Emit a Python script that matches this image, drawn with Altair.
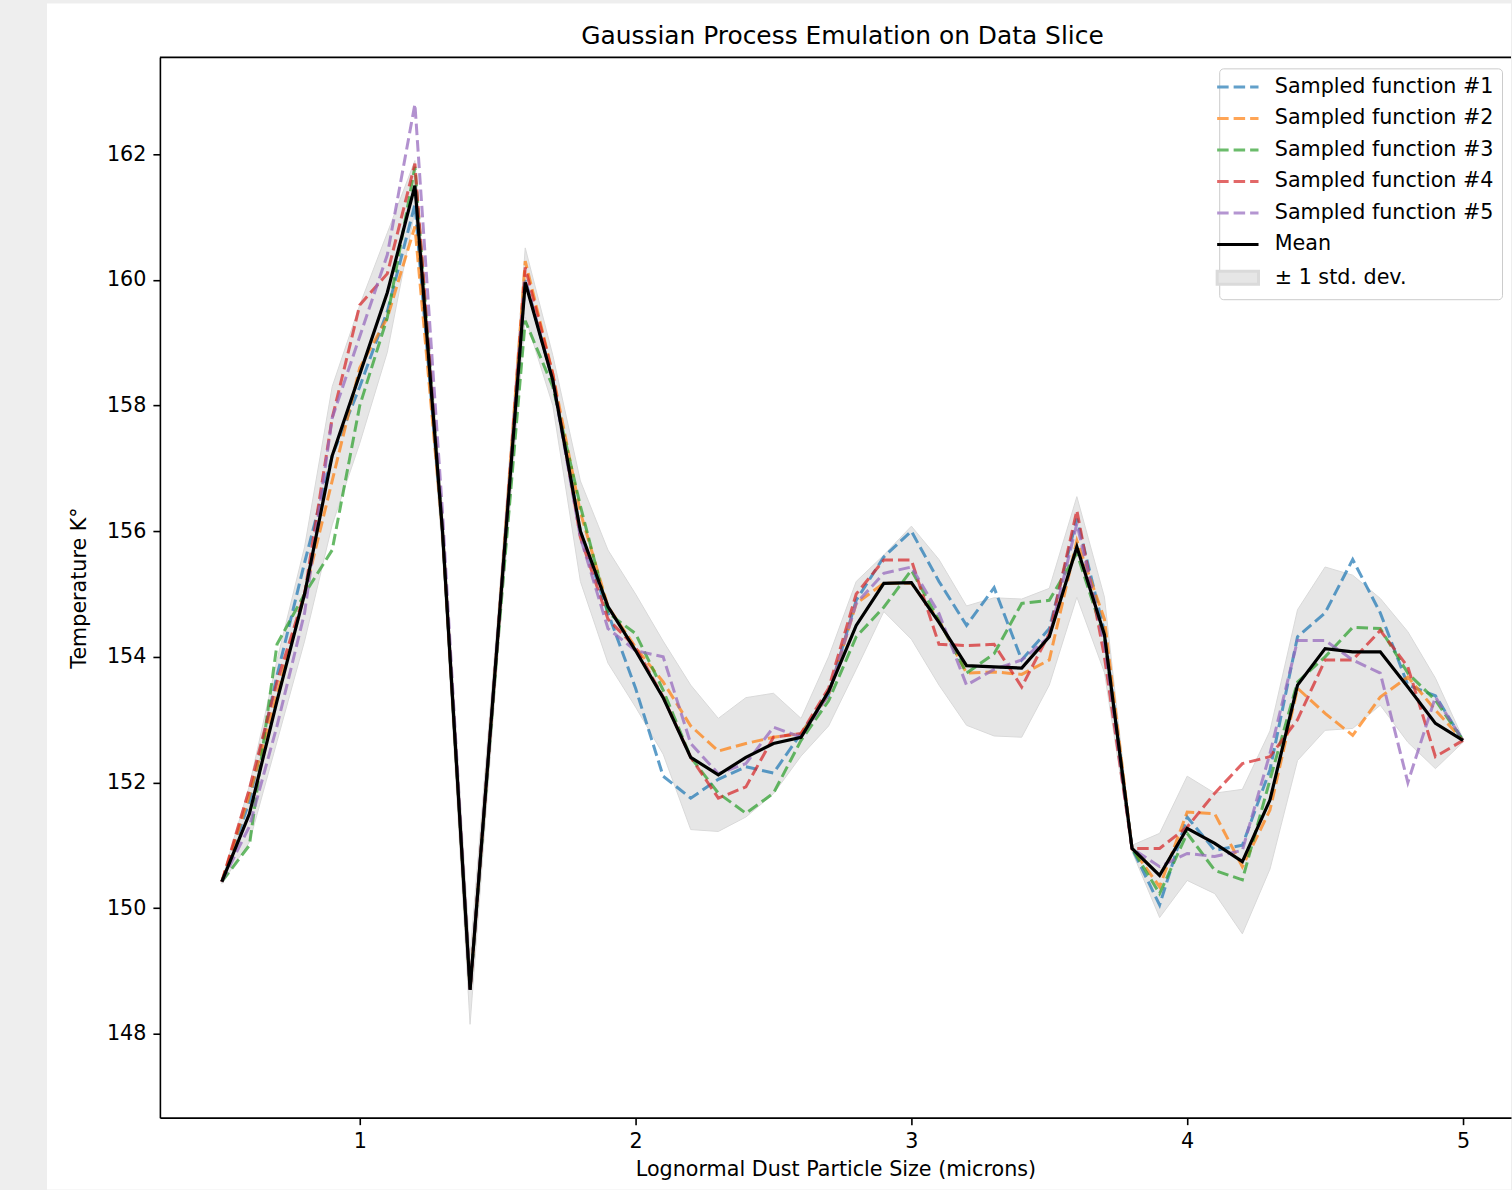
import altair as alt
import pandas as pd

# ---------------- data ----------------
x_vals = [0.5, 0.6, 0.7, 0.8, 0.9, 1.0, 1.1, 1.2, 1.3, 1.4,
          1.5, 1.6, 1.7, 1.8, 1.9, 2.0, 2.1, 2.2, 2.3, 2.4,
          2.5, 2.6, 2.7, 2.8, 2.9, 3.0, 3.1, 3.2, 3.3, 3.4,
          3.5, 3.6, 3.7, 3.8, 3.9, 4.0, 4.1, 4.2, 4.3, 4.4,
          4.5, 4.6, 4.7, 4.8, 4.9, 5.0]

mean_vals = [150.42, 151.5, 153.3, 155.0, 157.2, 158.5, 159.8, 161.5, 156.0, 148.7,
             154.3, 159.96, 158.4, 156.0, 154.8, 154.1, 153.35, 152.4, 152.12, 152.4,
             152.62, 152.72, 153.45, 154.5, 155.17, 155.18, 154.55, 153.86, 153.84, 153.82,
             154.32, 155.75, 154.35, 150.95, 150.52, 151.27, 151.03, 150.74, 151.72, 153.55,
             154.13, 154.08, 154.08, 153.52, 152.94, 152.67]

std_vals = [0.03, 0.45, 0.65, 0.75, 1.1, 1.1, 0.95, 0.4, 0.35, 0.55,
            0.35, 0.55, 0.4, 0.8, 0.9, 0.9, 0.9, 1.15, 0.9, 0.95,
            0.8, 0.3, 0.55, 0.7, 0.45, 0.9, 1.0, 0.95, 1.1, 1.1,
            0.77, 0.8, 0.6, 0.05, 0.67, 0.83, 0.8, 1.15, 1.1, 1.2,
            1.3, 1.22, 0.85, 0.88, 0.72, 0.03]

sample_1 = [150.42, 151.7, 153.7, 155.5, 157.2, 158.3, 159.5, 161.2, 156.0, 148.7,
            154.3, 160.0, 158.4, 156.0, 154.7, 153.5, 152.1, 151.75, 152.05, 152.25,
            152.15, 152.78, 153.4, 154.9, 155.59, 156.0, 155.2, 154.5, 155.1, 153.95,
            154.45, 156.2, 154.4, 150.95, 150.05, 151.45, 150.92, 151.0, 152.2, 154.32,
            154.7, 155.55, 154.7, 153.55, 153.38, 152.67]

sample_2 = [150.42, 151.8, 153.4, 155.0, 156.8, 158.6, 159.4, 160.85, 156.0, 148.7,
            154.3, 160.3, 158.5, 156.3, 154.8, 154.15, 153.6, 152.9, 152.5, 152.62,
            152.72, 152.78, 153.4, 154.85, 155.17, 155.17, 154.58, 153.74, 153.76, 153.72,
            153.95, 155.85, 154.6, 150.95, 150.34, 151.53, 151.5, 150.66, 151.56, 153.5,
            153.1, 152.75, 153.36, 153.68, 153.15, 152.67]

sample_3 = [150.42, 151.0, 154.2, 155.0, 155.7, 158.0, 159.4, 161.8, 156.0, 148.7,
            154.2, 159.35, 158.3, 156.4, 154.7, 154.37, 153.47, 152.4, 151.83, 151.51,
            151.83, 152.67, 153.3, 154.32, 154.79, 155.38, 154.58, 153.74, 154.05, 154.85,
            154.9, 155.65, 154.3, 150.95, 150.23, 151.19, 150.6, 150.45, 152.04, 153.6,
            154.0, 154.47, 154.45, 153.74, 153.31, 152.67]

sample_4 = [150.42, 151.9, 153.6, 155.0, 157.8, 159.6, 160.1, 161.85, 156.0, 148.7,
            154.3, 160.2, 158.5, 155.9, 154.6, 154.15, 153.36, 152.4, 151.75, 151.93,
            152.72, 152.78, 153.5, 155.0, 155.54, 155.54, 154.2, 154.18, 154.2, 153.52,
            154.37, 156.33, 154.0, 150.95, 150.95, 151.29, 151.83, 152.3, 152.41, 153.0,
            153.95, 153.95, 154.42, 153.84, 152.41, 152.67]

sample_5 = [150.42, 151.3, 152.9, 154.7, 157.8, 159.1, 160.4, 162.8, 156.3, 148.7,
            154.3, 160.0, 158.4, 155.9, 154.45, 154.1, 154.0, 152.62, 152.14, 152.3,
            152.88, 152.72, 153.4, 154.85, 155.33, 155.43, 154.69, 153.55, 153.8, 153.95,
            154.32, 156.12, 154.2, 150.95, 150.66, 150.87, 150.82, 150.92, 152.46, 154.26,
            154.26, 153.95, 153.74, 152.0, 153.36, 152.67]

series_names = ["Sampled function #1", "Sampled function #2", "Sampled function #3",
                "Sampled function #4", "Sampled function #5"]
mean_name = "Mean"
band_name = "\u00b1 1 std. dev."
legend_names = series_names + [mean_name, band_name]

x_ticks = [1, 2, 3, 4, 5]
y_ticks = [148, 150, 152, 154, 156, 158, 160, 162]

# ---------------- styles ----------------
line_colors = ["#1f77b4", "#ff7f0e", "#2ca02c", "#d62728", "#9467bd"]
legend_strokes = ["#62a0ca", "#ffa556", "#6bbc6b", "#e26868", "#b495d1", "#000000", "#dadada"]
legend_fills = ["#62a0ca", "#ffa556", "#6bbc6b", "#e26868", "#b495d1", "#000000", "#e6e6e6"]
dash_path = "M-4.14,0H-1.84M-0.84,0H1.46M2.46,0H4.14"
solid_path = "M-4.14,0H4.14"
rect_path = "M-4.14,-1.3H4.14V1.3H-4.14Z"
legend_shapes = [dash_path] * 5 + [solid_path, rect_path]

FONT = "DejaVu Sans"
W, H = 1352, 1061
TOP_MARGIN = 54  # white figure area above the axes

# ---------------- frames ----------------
samples_df = pd.concat(
    [pd.DataFrame({"x": x_vals, "y": vals, "series": name})
     for name, vals in zip(series_names, [sample_1, sample_2, sample_3, sample_4, sample_5])],
    ignore_index=True,
)
mean_df = pd.DataFrame({"x": x_vals, "y": mean_vals, "series": mean_name})
band_df = pd.DataFrame({
    "x": x_vals,
    "lo": [m - s for m, s in zip(mean_vals, std_vals)],
    "hi": [m + s for m, s in zip(mean_vals, std_vals)],
})
one_row = pd.DataFrame({"k": [0]})

x_scale = alt.Scale(domain=[0.2754, 5.174], nice=False, zero=False)
y_scale = alt.Scale(domain=[146.664, 163.543], nice=False, zero=False)
x_axis = alt.Axis(values=x_ticks, format="d", titlePadding=8, zindex=1)
y_axis = alt.Axis(values=y_ticks, format="d", titlePadding=17, zindex=1)

X = alt.X("x:Q", scale=x_scale, axis=x_axis, title="Lognormal Dust Particle Size (microns)")
Y_TITLE = "Temperature K\u00b0"

leg = alt.Legend(
    title=None, orient="none", legendX=1060, legendY=11, padding=8.3, cornerRadius=4,
    strokeColor="#cccccc", fillColor="white",
    labelFont=FONT, labelFontSize=20.7, labelColor="black", labelLimit=400,
    symbolSize=100, symbolStrokeWidth=3, symbolOpacity=1,
    labelOffset=26.6, rowPadding=9.5,
)

# white figure area behind the axes (decoration only)
bg = alt.Chart(one_row).mark_rect(color="white").encode(
    x=alt.value(-113), x2=alt.value(W), y=alt.value(-TOP_MARGIN), y2=alt.value(H + 72)
)

# top spine of the axes frame
top_spine = alt.Chart(one_row).mark_rule(color="black", strokeWidth=1.6).encode(
    x=alt.value(0), x2=alt.value(W), y=alt.value(0)
)

band = alt.Chart(band_df).mark_area(fill="#e6e6e6", stroke="#d9d9d9", strokeWidth=1).encode(
    x=X,
    y=alt.Y("lo:Q", scale=y_scale, axis=y_axis, title=Y_TITLE),
    y2="hi:Q",
)

samples = alt.Chart(samples_df).mark_line(strokeDash=[11.5, 5], strokeWidth=3, opacity=0.72).encode(
    x=X,
    y=alt.Y("y:Q", scale=y_scale, axis=y_axis, title=Y_TITLE),
    color=alt.Color("series:N", scale=alt.Scale(domain=series_names, range=line_colors), legend=None),
)

mean_line = alt.Chart(mean_df).mark_line(color="black", strokeWidth=3.2).encode(
    x=X,
    y=alt.Y("y:Q", scale=y_scale, axis=y_axis, title=Y_TITLE),
)

legend_layer = alt.Chart(mean_df).mark_point(opacity=0, filled=True, strokeWidth=3).encode(
    x=X,
    y=alt.Y("y:Q", scale=y_scale, axis=y_axis, title=Y_TITLE),
    fill=alt.Fill("series:N", scale=alt.Scale(domain=legend_names, range=legend_fills), legend=leg),
    stroke=alt.Stroke("series:N", scale=alt.Scale(domain=legend_names, range=legend_strokes), legend=leg),
    shape=alt.Shape("series:N", scale=alt.Scale(domain=legend_names, range=legend_shapes), legend=leg),
)

chart = (
    alt.layer(bg, band, samples, mean_line, top_spine, legend_layer)
    .properties(
        width=W, height=H,
        padding={"left": 47, "top": 3, "right": 0, "bottom": 0},
        background="#eeeeee",
        title=alt.TitleParams(
            "Gaussian Process Emulation on Data Slice",
            font=FONT, fontSize=24.9, fontWeight="normal", color="black",
            anchor="middle", baseline="alphabetic", frame="group", dx=7,
            offset=0, dy=66,
        ),
    )
    .configure_axis(
        labelFont=FONT, titleFont=FONT, labelFontSize=20.7, titleFontSize=20.7,
        labelColor="black", titleColor="black", titleFontWeight="normal",
        tickColor="black", tickSize=7, tickWidth=1.6, labelPadding=7,
        domain=True, domainColor="black", domainWidth=1.6, grid=False,
    )
    .configure_view(stroke="transparent")
)

chart.save("out.html", embed_options={"renderer": "svg", "actions": False})
